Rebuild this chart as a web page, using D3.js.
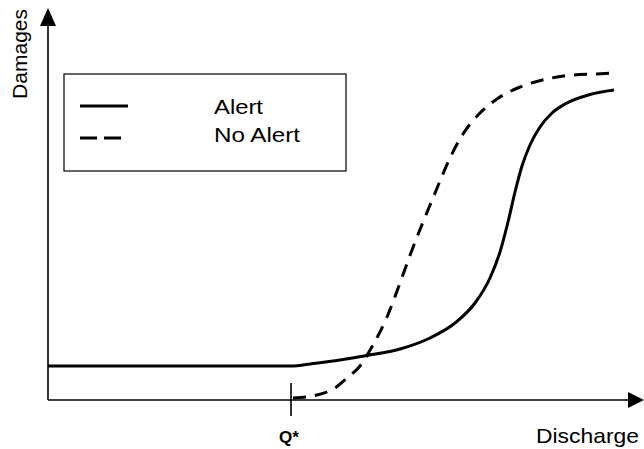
<!DOCTYPE html>
<html lang="en">
<head>
    <meta charset="UTF-8">
    <title>Damages vs Discharge</title>
    <script src="https://cdn.jsdelivr.net/npm/d3@7/dist/d3.min.js"></script>
    <style>
        body { margin: 0; background: #fff; }
        svg { display: block; font-family: "Liberation Sans", Arial, sans-serif; }
    </style>
</head>
<body>
<script>
    // canvas size
    const width = 644;
    const height = 449;

    // data: discharge (x) and damages (y), arbitrary units
    const alertX   = [0, 243, 265, 292, 319, 352, 382, 407, 427, 442, 452, 460, 467, 474, 482, 492, 504, 517, 542, 566];
    const alertY   = [34, 34, 36.5, 40, 44.5, 51, 62, 77, 97, 122, 148, 178, 208, 234, 255, 273, 287, 296, 305.5, 310];
    const noAlertX = [245, 269, 287, 299, 312, 325, 339, 352, 364, 375, 385, 392, 402, 415, 432, 449, 472, 499, 525, 549, 566];
    const noAlertY = [2, 5, 12, 22, 34, 55, 83, 117, 150, 178, 202, 219, 242, 266, 287, 301, 313, 321, 325, 326, 327];
    const qStar = 243;
    const legendLabels = ['Alert', 'No Alert'];
    const xLabel = 'Discharge';
    const yLabel = 'Damages';

    const svg = d3.select('body').append('svg')
        .attr('width', width)
        .attr('height', height);

    // scales (1 unit = 1 px)
    const x = d3.scaleLinear().domain([0, 600]).range([48, 648]);
    const y = d3.scaleLinear().domain([0, 400]).range([400, 0]);

    // axes with arrow heads
    svg.append('line')
        .attr('x1', x(0)).attr('y1', y(0))
        .attr('x2', x(0)).attr('y2', 22)
        .attr('stroke', '#000').attr('stroke-width', 1.6);
    svg.append('path')
        .attr('d', `M${x(0)},8 L${x(0) - 8},26 L${x(0) + 8},26 Z`)
        .attr('fill', '#000');

    svg.append('line')
        .attr('x1', x(0)).attr('y1', y(0))
        .attr('x2', 632).attr('y2', y(0))
        .attr('stroke', '#000').attr('stroke-width', 1.6);
    svg.append('path')
        .attr('d', `M644,${y(0)} L628,${y(0) - 8} L628,${y(0) + 8} Z`)
        .attr('fill', '#000');

    // Q* tick
    svg.append('line')
        .attr('x1', x(qStar)).attr('x2', x(qStar))
        .attr('y1', y(0) - 17).attr('y2', y(0) + 16)
        .attr('stroke', '#000').attr('stroke-width', 1.6);
    svg.append('text')
        .attr('x', x(qStar) - 2).attr('y', 443)
        .attr('text-anchor', 'middle')
        .attr('font-weight', 'bold')
        .attr('font-size', 17)
        .text('Q*');

    // axis labels
    svg.append('text')
        .attr('x', 639).attr('y', 443)
        .attr('text-anchor', 'end')
        .attr('font-size', 21)
        .attr('textLength', 103)
        .attr('lengthAdjust', 'spacingAndGlyphs')
        .text(xLabel);
    svg.append('text')
        .attr('transform', 'translate(27,9) rotate(-90)')
        .attr('text-anchor', 'end')
        .attr('font-size', 21)
        .text(yLabel);

    // curves
    const line = d3.line()
        .x(d => x(d[0]))
        .y(d => y(d[1]))
        .curve(d3.curveMonotoneX);

    svg.append('path')
        .datum(d3.zip(alertX, alertY))
        .attr('d', line)
        .attr('fill', 'none')
        .attr('stroke', '#000')
        .attr('stroke-width', 3);

    svg.append('path')
        .datum(d3.zip(noAlertX, noAlertY))
        .attr('d', line)
        .attr('fill', 'none')
        .attr('stroke', '#000')
        .attr('stroke-width', 3)
        .attr('stroke-dasharray', '13,9');

    // legend
    const legend = svg.append('g');
    legend.append('rect')
        .attr('x', 64).attr('y', 74)
        .attr('width', 282).attr('height', 97)
        .attr('fill', '#fff')
        .attr('stroke', '#000').attr('stroke-width', 1.2);

    const textLens = [49, 86];
    legendLabels.forEach((label, i) => {
        const ly = 106 + i * 32;
        legend.append('line')
            .attr('x1', 80).attr('x2', 128)
            .attr('y1', ly).attr('y2', ly)
            .attr('stroke', '#000').attr('stroke-width', 3)
            .attr('stroke-dasharray', i === 1 ? '17,7' : null);
        legend.append('text')
            .attr('x', 214).attr('y', 114 + i * 28)
            .attr('font-size', 21)
            .attr('textLength', textLens[i])
            .attr('lengthAdjust', 'spacingAndGlyphs')
            .text(label);
    });
</script>
</body>
</html>
